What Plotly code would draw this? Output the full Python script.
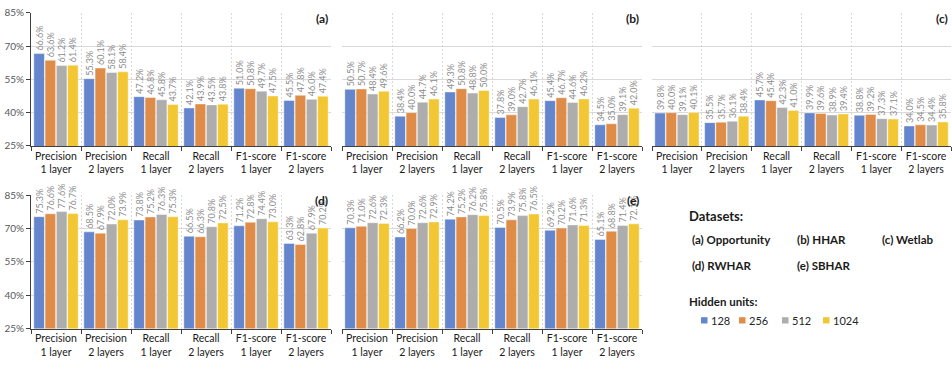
import plotly.graph_objects as go

# ---------------- data ----------------
categories = ["Precision<br>1 layer", "Precision<br>2 layers", "Recall<br>1 layer",
              "Recall<br>2 layers", "F1-score<br>1 layer", "F1-score<br>2 layers"]
hidden_units = ["128", "256", "512", "1024"]

# values in % ; one list per hidden-unit size, ordered like `categories`
opportunity_128 = [66.6, 55.3, 47.2, 42.1, 51.0, 45.5]
opportunity_256 = [63.6, 60.1, 46.8, 43.9, 50.8, 47.8]
opportunity_512 = [61.2, 58.1, 45.8, 43.5, 49.7, 46.0]
opportunity_1024 = [61.4, 58.4, 43.7, 43.8, 47.5, 47.4]

hhar_128 = [50.5, 38.4, 49.3, 37.8, 45.4, 34.5]
hhar_256 = [50.7, 40.0, 50.8, 39.0, 46.7, 35.0]
hhar_512 = [48.4, 44.7, 48.8, 42.7, 44.6, 39.1]
hhar_1024 = [49.6, 46.1, 50.0, 46.1, 46.2, 42.0]

wetlab_128 = [39.8, 35.5, 45.7, 39.9, 38.8, 34.0]
wetlab_256 = [40.0, 35.7, 45.4, 39.6, 39.2, 34.5]
wetlab_512 = [39.1, 36.1, 42.3, 38.9, 37.3, 34.4]
wetlab_1024 = [40.1, 38.4, 41.0, 39.4, 37.1, 35.8]

rwhar_128 = [75.3, 68.5, 73.8, 66.5, 71.2, 63.3]
rwhar_256 = [76.6, 67.9, 75.2, 66.3, 72.8, 62.8]
rwhar_512 = [77.6, 72.0, 76.3, 70.8, 74.4, 67.9]
rwhar_1024 = [76.7, 73.9, 75.3, 72.5, 73.0, 70.2]

sbhar_128 = [70.3, 66.2, 74.2, 70.5, 69.2, 65.1]
sbhar_256 = [71.0, 70.0, 75.2, 73.9, 70.2, 68.8]
sbhar_512 = [72.6, 72.6, 76.2, 75.8, 71.6, 71.4]
sbhar_1024 = [72.3, 72.9, 75.8, 76.5, 71.3, 72.1]

panel_tags = ["(a)", "(b)", "(c)", "(d)", "(e)"]
dataset_names = ["(a) Opportunity", "(b) HHAR", "(c) Wetlab", "(d) RWHAR", "(e) SBHAR"]

panel_series = [
    [opportunity_128, opportunity_256, opportunity_512, opportunity_1024],
    [hhar_128, hhar_256, hhar_512, hhar_1024],
    [wetlab_128, wetlab_256, wetlab_512, wetlab_1024],
    [rwhar_128, rwhar_256, rwhar_512, rwhar_1024],
    [sbhar_128, sbhar_256, sbhar_512, sbhar_1024],
]

# ---------------- style / layout ----------------
W, H = 952, 370
colors = ["#6585CC", "#DE8C47", "#ADADAD", "#F3C733"]
FONT = "Lato, Liberation Sans, sans-serif"
GRID = "#D9D9D9"
AXIS = "#404040"

def px_x(x):
    return x / W

def px_y(y):
    return 1 - y / H

x_domains = [(31, 331), (342, 642), (652, 951), (31, 331), (342, 642)]
y_domains = [(6, 144), (6, 144), (6, 144), (195, 333.3), (195, 333.3)]
show_y = [True, False, False, True, False]

fig = go.Figure()
layout = dict(
    width=W, height=H,
    margin=dict(l=0, r=0, t=0, b=0),
    paper_bgcolor="white", plot_bgcolor="white",
    barmode="group", bargap=0.1, bargroupgap=0.06,
    showlegend=False,
    font=dict(family=FONT, color="#262626"),
)

annotations = []
for p, series in enumerate(panel_series):
    idx = "" if p == 0 else str(p + 1)
    xa, ya = "x" + idx, "y" + idx
    for u, vals in enumerate(series):
        fig.add_trace(go.Bar(
            x=categories, y=vals, name=hidden_units[u],
            xaxis=xa, yaxis=ya,
            marker=dict(color=colors[u], line=dict(color="rgba(255,255,255,0.7)", width=0.6)),
            texttemplate="%{y:.1f}%", textposition="outside", textangle=-90,
            textfont=dict(size=9, color="#8C8C8C", family=FONT),
            cliponaxis=False, constraintext="none",
            hovertemplate="%{y:.1f}%<extra>" + hidden_units[u] + "</extra>",
        ))
    x0, x1 = x_domains[p]
    y0, y1 = y_domains[p]
    layout["xaxis" + idx] = dict(
        domain=[px_x(x0), px_x(x1)], anchor=ya, type="category",
        tickson="boundaries", ticks="outside", ticklen=4, tickcolor=AXIS,
        tickangle=0,
        showline=True, linecolor=AXIS, linewidth=1,
        showgrid=True, gridcolor=GRID, griddash="2px,2px", gridwidth=1,
        tickfont=dict(size=10.5, color="#1A1A1A", family=FONT),
        fixedrange=True,
    )
    layout["yaxis" + idx] = dict(
        domain=[px_y(y1), px_y(y0)], anchor=xa, range=[25, 85],
        tick0=25, dtick=15, ticksuffix="%",
        showgrid=True, gridcolor=GRID, gridwidth=1, zeroline=False,
        showline=show_y[p], linecolor=AXIS, linewidth=1,
        ticks="outside" if show_y[p] else "", ticklen=4, tickcolor=AXIS,
        showticklabels=show_y[p],
        tickfont=dict(size=10, color="#595959", family=FONT),
        fixedrange=True,
    )
    annotations.append(dict(
        text="<b>" + panel_tags[p] + "</b>", xref="paper", yref="paper",
        x=px_x(x1 - 1), y=px_y(y0 + 6), xanchor="right", yanchor="middle",
        showarrow=False, font=dict(size=12, color="#1A1A1A", family=FONT),
    ))

# dataset description block
annotations.append(dict(text="<b>Datasets:</b>", xref="paper", yref="paper",
                        x=px_x(687), y=px_y(217), xanchor="left", yanchor="middle",
                        showarrow=False, font=dict(size=13, color="#1A1A1A", family=FONT)))
name_pos = [(690, 241), (795, 241), (880, 241), (690, 268), (795, 268)]
for name, (nx, ny) in zip(dataset_names, name_pos):
    annotations.append(dict(text="<b>" + name + "</b>", xref="paper", yref="paper",
                            x=px_x(nx), y=px_y(ny), xanchor="left", yanchor="middle",
                            showarrow=False, font=dict(size=11.5, color="#1A1A1A", family=FONT)))
annotations.append(dict(text="<b>Hidden units:</b>", xref="paper", yref="paper",
                        x=px_x(687), y=px_y(305), xanchor="left", yanchor="middle",
                        showarrow=False, font=dict(size=11.5, color="#1A1A1A", family=FONT)))

# legend (hidden units)
legend_x = [701, 739, 782, 823]
shapes = []
for u, lx in enumerate(legend_x):
    shapes.append(dict(type="rect", xref="paper", yref="paper",
                       x0=px_x(lx), x1=px_x(lx + 6.5), y0=px_y(328), y1=px_y(321.5),
                       fillcolor=colors[u], line=dict(width=0)))
    annotations.append(dict(text=hidden_units[u], xref="paper", yref="paper",
                            x=px_x(lx + 7.5), y=px_y(325), xanchor="left", yanchor="middle",
                            showarrow=False, font=dict(size=11, color="#262626", family=FONT)))

layout["annotations"] = annotations
layout["shapes"] = shapes
fig.update_layout(**layout)
fig.write_html(
    "out.html",
    config={"displayModeBar": False},
    post_script="document.body.style.margin='0';document.body.style.overflow='hidden';",
)
